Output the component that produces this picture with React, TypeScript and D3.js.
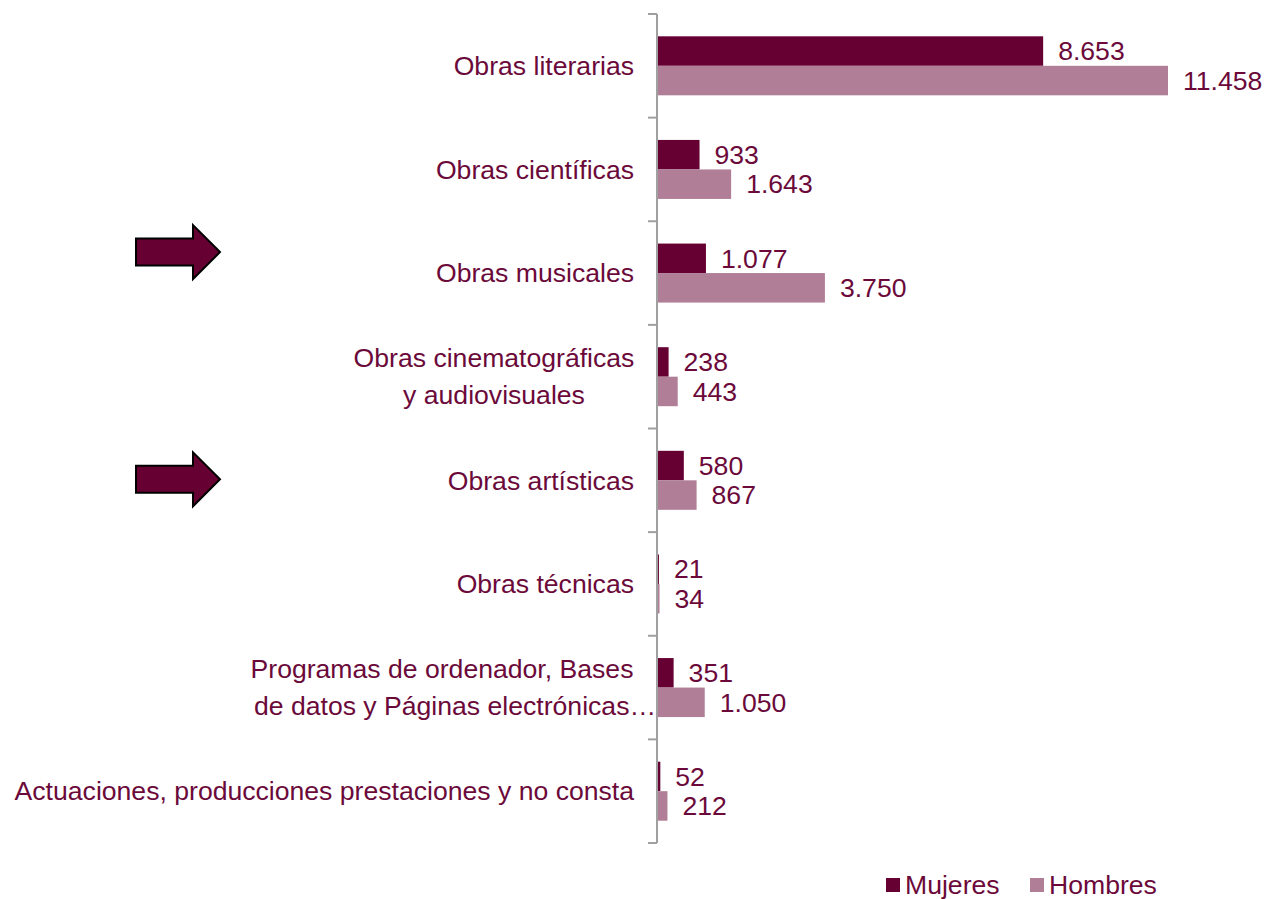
import React from "react";
import * as d3 from "d3";

const categories = [
  ["Obras literarias"],
  ["Obras científicas"],
  ["Obras musicales"],
  ["Obras cinematográficas", "y audiovisuales"],
  ["Obras artísticas"],
  ["Obras técnicas"],
  ["Programas de ordenador, Bases", "de datos y Páginas electrónicas…"],
  ["Actuaciones, producciones prestaciones y no consta"],
];
const mujeres = [8653, 933, 1077, 238, 580, 21, 351, 52];
const hombres = [11458, 1643, 3750, 443, 867, 34, 1050, 212];
const seriesNames = ["Mujeres", "Hombres"];
const colors = ["#660033", "#b07f97"];
const textColor = "#6b0a3a";
// arrow annotations: [category index, vertical offset]
const arrows = [[2, -21], [4, -1]];

const fmt = (v: number) => d3.format(",")(v).replace(/,/g, ".");

export default function App() {
  const W = 1268, H = 899;
  const axisX = 657;
  const y = d3.scaleBand<number>().domain(d3.range(categories.length)).range([14, 843]).paddingInner(0).paddingOuter(0);
  const x = d3.scaleLinear().domain([0, 11458]).range([axisX + 1, 1168]);
  const barH = 29.5;
  const font = "'Liberation Sans', Arial, sans-serif";
  const fs = 26.6;

  return (
    <svg width={W} height={H} style={{ position: "absolute", left: 0, top: 0 }} fontFamily={font}>
      {/* bars */}
      {categories.map((_, i) => {
        const c = (y(i) as number) + y.bandwidth() / 2;
        const vals = [mujeres[i], hombres[i]];
        return (
          <g key={i}>
            {vals.map((v, j) => {
              const by = c - barH + j * barH;
              return (
                <g key={j}>
                  <rect x={x(0)} y={by} width={Math.max(0.8, x(v) - x(0))} height={barH} fill={colors[j]} />
                  <text x={x(v) + 15} y={by + barH / 2} dy="0.35em" fontSize={fs} fill={textColor}>{fmt(v)}</text>
                </g>
              );
            })}
          </g>
        );
      })}
      {/* axis */}
      <g stroke="#a0a0a0" strokeWidth={2}>
        <line x1={axisX} x2={axisX} y1={y(0) as number} y2={(y(categories.length - 1) as number) + y.bandwidth()} />
        {d3.range(categories.length + 1).map((i) => {
          const ty = (y(0) as number) + i * y.bandwidth();
          return <line key={i} x1={axisX - 9} x2={axisX} y1={ty} y2={ty} />;
        })}
      </g>
      {/* category labels */}
      {categories.map((lines, i) => {
        const c = (y(i) as number) + y.bandwidth() / 2;
        if (lines.length === 1) {
          return <text key={i} x={634} y={c} dy="0.35em" textAnchor="end" fontSize={fs} fill={textColor}>{lines[0]}</text>;
        }
        const centers = i === 3 ? [494, 494] : [442, 455];
        return (
          <g key={i}>
            {lines.map((l, k) => (
              <text key={k} x={centers[k]} y={c + (k === 0 ? -18.5 : 18.5)} dy="0.35em" textAnchor="middle" fontSize={fs} fill={textColor}>{l}</text>
            ))}
          </g>
        );
      })}
      {/* arrows */}
      {arrows.map(([ci, off], k) => {
        const cy = (y(ci) as number) + y.bandwidth() / 2 + off;
        const p = [
          [136, cy - 13.5], [193, cy - 13.5], [193, cy - 27], [220, cy], [193, cy + 27], [193, cy + 13.5], [136, cy + 13.5],
        ];
        return <polygon key={k} points={p.map((q) => q.join(",")).join(" ")} fill="#660033" stroke="#000" strokeWidth={2} />;
      })}
      {/* legend */}
      {seriesNames.map((n, j) => {
        const lx = j === 0 ? 886 : 1030;
        return (
          <g key={n}>
            <rect x={lx} y={878} width={14} height={14} fill={colors[j]} />
            <text x={lx + 19} y={885} dy="0.35em" fontSize={fs} fill={textColor}>{n}</text>
          </g>
        );
      })}
    </svg>
  );
}
